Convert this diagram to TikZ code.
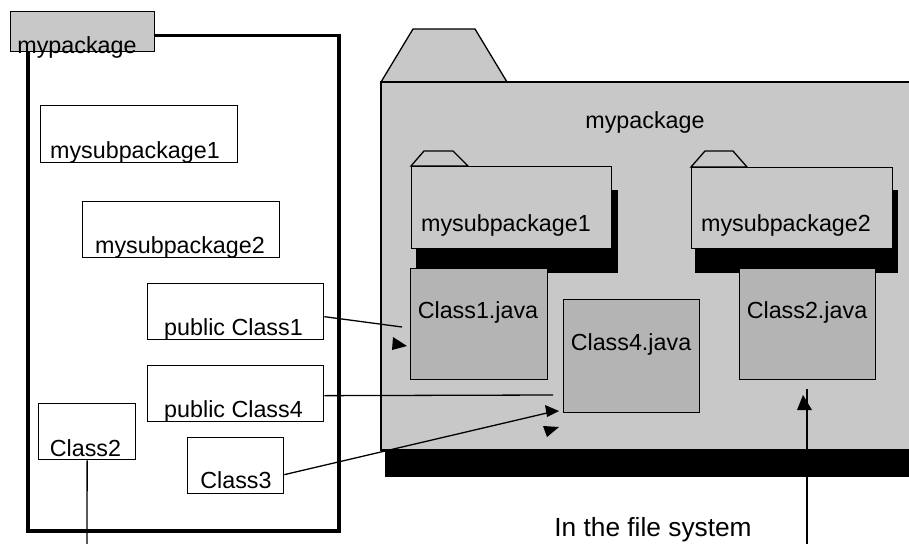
\documentclass[tikz,border=0pt]{standalone}
\usepackage{fontspec}
\setmainfont{Liberation Sans}
\definecolor{foldergray}{RGB}{200,200,200}
\definecolor{filegray}{RGB}{180,180,180}
\tikzset{
  txt/.style={font=\fontsize{23.3}{28}\selectfont, inner sep=0pt, anchor=base},
  bigtxt/.style={font=\fontsize{26.3}{31}\selectfont, inner sep=0pt, anchor=base},
  umlbox/.style={draw, line width=1.3pt, anchor=north west, inner sep=0pt},
  thin/.style={line width=1.3pt},
  shadowbox/.style={fill=black, draw=none},
  folderfill/.style={fill=foldergray, draw, line width=1.3pt},
  filebox/.style={fill=filegray, draw, line width=1.3pt, anchor=north west, inner sep=0pt},
  headtri/.style={fill=black, draw=none}
}
\begin{document}
\begin{tikzpicture}[x=1pt,y=-1pt]
\clip (0,0) rectangle (909,543);
\fill[white] (0,0) rectangle (909,543);

% ---------- left: UML package ----------
\node[draw, line width=3.5pt, anchor=north west, inner sep=0pt,
      minimum width=311pt, minimum height=495pt] (pkg) at (26,34) {};
\node[umlbox, fill=foldergray, minimum width=144pt, minimum height=40pt] (tab) at (10,11) {};
\node[txt] (tabt) at (77,53) {mypackage};

\node[umlbox, minimum width=197pt, minimum height=57pt] (sp1) at (40,105) {};
\node[txt] (sp1t) at (135,158) {mysubpackage1};
\node[umlbox, minimum width=197pt, minimum height=56pt] (sp2) at (82,201) {};
\node[txt] (sp2t) at (180,253) {mysubpackage2};
\node[umlbox, minimum width=176pt, minimum height=56pt] (pc1) at (147,283) {};
\node[txt] (pc1t) at (233.5,335) {public Class1};
\node[umlbox, minimum width=176pt, minimum height=56pt] (pc4) at (147,365) {};
\node[txt] (pc4t) at (233.5,417) {public Class4};
\node[umlbox, minimum width=97pt, minimum height=56pt] (c2) at (38,403) {};
\node[txt] (c2t) at (85.5,456) {Class2};
\node[umlbox, minimum width=96pt, minimum height=56pt] (c3) at (187,437) {};
\node[txt] (c3t) at (236,488) {Class3};

% ---------- right: file system folder ----------
\fill[black] (385,100) rectangle (920,477);
\draw[folderfill] (381,82) -- (413,29) -- (475,29) -- (507,82) -- cycle;
\draw[folderfill] (920,82) -- (381,82) -- (381,450) -- (920,450);
\node[txt] (fpk) at (645,128) {mypackage};

% subfolder 1
\fill[black] (416,190) rectangle (618,273);
\draw[folderfill] (411,166) -- (424,151) -- (453,151) -- (468,166) -- cycle;
\node[filebox, fill=foldergray, minimum width=200pt, minimum height=82pt] (fs1) at (411,166) {};
\node[txt] (fs1t) at (506,231) {mysubpackage1};
% subfolder 2
\fill[black] (695,190) rectangle (898,273);
\draw[folderfill] (691,167) -- (705,151) -- (733,151) -- (747,167) -- cycle;
\node[filebox, fill=foldergray, minimum width=201pt, minimum height=81pt] (fs2) at (691,167) {};
\node[txt] (fs2t) at (786,231) {mysubpackage2};

% java files
\node[filebox, minimum width=137pt, minimum height=111pt] (j1) at (410,268) {};
\node[txt] (j1t) at (478,318) {Class1.java};
\node[filebox, minimum width=136pt, minimum height=113pt] (j4) at (563,299) {};
\node[txt] (j4t) at (631,350) {Class4.java};
\node[filebox, minimum width=136pt, minimum height=111pt] (j2) at (739,268) {};
\node[txt] (j2t) at (807,318) {Class2.java};

% ---------- connectors ----------
\coordinate (e1) at (402,327);
\coordinate (e4) at (553,395);
\coordinate (e3) at (547,413);
\coordinate (e2) at (87,550);
\coordinate (fsb) at (807,550);
\coordinate (fst) at (807,389);

\draw[thin] ([yshift=-5pt]pc1.east) -- (e1);
\draw[thin] ([yshift=-2pt]pc4.east) -- (e4);
\draw[thin] ([yshift=-9pt]c3.east) -- (e3);
\draw[thin] (c2.south) -- (e2);
\draw[thin] (fsb) -- (fst);

% detached arrowheads
\fill[headtri] (393,337) -- (407,346) -- (392,350) -- cycle;
\fill[headtri] (545,405) -- (559,411) -- (547,417) -- cycle;
\fill[headtri] (543,426) -- (559,427) -- (547,437) -- cycle;
\fill[headtri] (803,395) -- (812,410) -- (797,410) -- cycle;

\node[bigtxt] (fstxt) at (653,536) {In the file system};
\end{tikzpicture}
\end{document}
